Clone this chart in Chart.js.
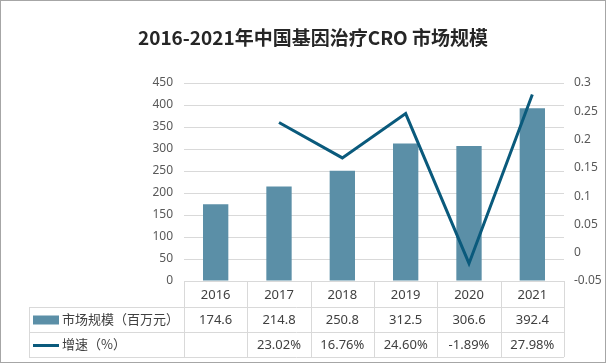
<!DOCTYPE html>
<html><head><meta charset="utf-8">
<script src="https://cdn.jsdelivr.net/npm/chart.js@4"></script>
<style>
html,body{margin:0;padding:0;background:#fff;}
canvas{display:block;}
</style></head><body>
<canvas id="c" width="606" height="363"></canvas>
<script>
const categories = ['2016','2017','2018','2019','2020','2021'];
const marketSize = [174.6, 214.8, 250.8, 312.5, 306.6, 392.4];
const growth = [null, 0.2302, 0.1676, 0.2460, -0.0189, 0.2798];
const growthLabels = ['', '23.02%', '16.76%', '24.60%', '-1.89%', '27.98%'];
const seriesNames = ['市场规模（百万元）', '增速（%）'];
const titleText = '2016-2021年中国基因治疗CRO 市场规模';

const BAR_COLOR = '#5b8fa7';
const LINE_COLOR = '#0a5a7c';
const FONT = '"Noto Sans", "Noto Sans CJK SC", sans-serif';

const tablePlugin = {
  id: 'tablePlugin',
  afterDraw(chart) {
    const ctx = chart.ctx;
    const x = chart.scales.x;
    const area = chart.chartArea;
    const left = area.left, right = area.right;
    const n = categories.length;
    const colW = (right - left) / n;
    const y0 = area.bottom, y1 = y0 + 26, y2 = y1 + 25, y3 = y2 + 25;
    const tableLeft = 29;
    ctx.save();
    // outer border
    ctx.strokeStyle = '#a6a6a6';
    ctx.lineWidth = 1;
    ctx.strokeRect(0.5, 0.5, chart.width - 1, chart.height - 1);

    ctx.strokeStyle = '#d9d9d9';
    ctx.beginPath();
    ctx.moveTo(left, y0 + 0.5); ctx.lineTo(right, y0 + 0.5);
    [y1, y2, y3].forEach(y => { ctx.moveTo(tableLeft, y + 0.5); ctx.lineTo(right, y + 0.5); });
    for (let i = 0; i <= n; i++) {
      const xx = Math.round(left + i * colW) + 0.5;
      ctx.moveTo(xx, y0); ctx.lineTo(xx, y3);
    }
    ctx.moveTo(tableLeft + 0.5, y1); ctx.lineTo(tableLeft + 0.5, y3);
    ctx.stroke();

    ctx.fillStyle = '#404040';
    ctx.font = '13px ' + FONT;
    ctx.textAlign = 'center';
    ctx.textBaseline = 'middle';
    for (let i = 0; i < n; i++) {
      const cx = x.getPixelForValue(i);
      ctx.fillText(categories[i], cx, (y0 + y1) / 2 + 1);
      ctx.fillText(String(marketSize[i]), cx, (y1 + y2) / 2 + 1);
      ctx.fillText(growthLabels[i], cx, (y2 + y3) / 2 + 1);
    }
    ctx.fillStyle = BAR_COLOR;
    ctx.fillRect(33, (y1 + y2) / 2 - 4, 26, 9);
    ctx.strokeStyle = LINE_COLOR;
    ctx.lineWidth = 3;
    ctx.beginPath();
    ctx.moveTo(33, (y2 + y3) / 2 + 1); ctx.lineTo(59, (y2 + y3) / 2 + 1);
    ctx.stroke();
    ctx.fillStyle = '#404040';
    ctx.textAlign = 'left';
    ctx.font = '13px "Noto Sans CJK SC", sans-serif';
    ctx.fillText(seriesNames[0], 62, (y1 + y2) / 2);
    ctx.fillText(seriesNames[1], 62, (y2 + y3) / 2);
    ctx.fillStyle = '#262626';
    ctx.font = 'bold 19px "Noto Sans CJK SC", sans-serif';
    ctx.textAlign = 'center';
    ctx.fillText(titleText, 313, 38);
    ctx.restore();
  }
};

new Chart(document.getElementById('c'), {
  data: {
    labels: categories,
    datasets: [
      { type: 'line', label: seriesNames[1], data: growth, yAxisID: 'y1',
        borderColor: LINE_COLOR, borderWidth: 3, pointRadius: 0, tension: 0,
        spanGaps: false, order: 0 },
      { type: 'bar', label: seriesNames[0], data: marketSize, yAxisID: 'y',
        backgroundColor: BAR_COLOR, barPercentage: 0.4, categoryPercentage: 1.0, order: 1 }
    ]
  },
  options: {
    responsive: false,
    animation: false,
    layout: { padding: { top: 83, left: 0, right: 0, bottom: 0 } },
    plugins: { legend: { display: false }, title: { display: false }, tooltip: { enabled: false } },
    scales: {
      x: {
        offset: true,
        ticks: { display: false },
        grid: { display: false },
        border: { display: false },
        afterFit(s) { s.height = 82; }
      },
      y: {
        position: 'left', min: 0, max: 450,
        ticks: { stepSize: 50, color: '#595959', font: { size: 12, family: FONT }, padding: 11 },
        grid: { color: '#d9d9d9', drawTicks: false },
        border: { display: false },
        afterFit(s) { s.width = 184; }
      },
      y1: {
        position: 'right', min: -0.05, max: 0.3,
        ticks: { stepSize: 0.05, color: '#595959', font: { size: 12, family: FONT }, padding: 10,
          callback: v => String(Math.round(v * 100) / 100) },
        grid: { display: false, drawTicks: false },
        border: { display: false },
        afterFit(s) { s.width = 42; }
      }
    }
  },
  plugins: [tablePlugin]
});
</script>
</body></html>
